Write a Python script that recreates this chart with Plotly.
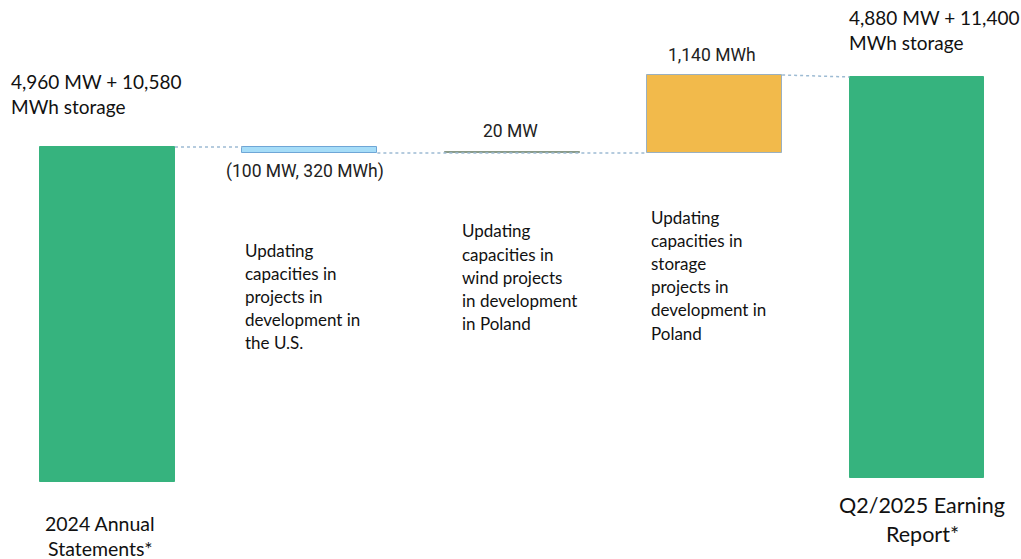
import plotly.graph_objects as go

# Capacity bridge: opening total, three adjustments, closing total (display units)
categories = ["2024 Annual Statements*", "U.S. update", "Wind Poland", "Storage Poland", "Q2/2025 Earning Report*"]
bar_base = [0.0, 98.2, 98.2, 98.2, 1.2]
bar_top = [100.0, 100.0, 98.6, 121.5, 120.9]

value_labels = ["4,960 MW + 10,580<br>MWh storage", "(100 MW, 320 MWh)", "20 MW", "1,140 MWh",
                "4,880 MW + 11,400<br>MWh storage"]
descriptions = [
    None,
    ["Updating", "capacities in", "projects in", "development in", "the U.S."],
    ["Updating", "capacities in", "wind projects", "in development", "in Poland"],
    ["Updating", "capacities in", "storage", "projects in", "development in", "Poland"],
    None,
]

fill_colors = ["#36B37E", "#A6DDF8", "#8E9C80", "#F2BA4B", "#36B37E"]
edge_colors = ["#36B37E", "#6FA6D6", "#8A9A88", "#9AB0C0", "#36B37E"]

W, H = 1021, 559
BAR_W = 0.667
x_idx = list(range(len(categories)))

fig = go.Figure()

fig.add_trace(go.Bar(
    x=x_idx,
    y=[t - b for t, b in zip(bar_top, bar_base)],
    base=bar_base,
    width=BAR_W,
    marker=dict(color=fill_colors, line=dict(color=edge_colors, width=1)),
    hoverinfo="skip",
    showlegend=False,
))

# dotted connectors between neighbouring bars
half = BAR_W / 2
conn_x, conn_y = [], []
conn_x += [0 + half, 1 - half, None]
conn_y += [bar_top[0], bar_top[1], None]
conn_x += [1 + half, 3 - half, None]
conn_y += [bar_base[1], bar_base[3], None]
conn_x += [3 + half, 4 - half, None]
conn_y += [bar_top[3], bar_top[4], None]
fig.add_trace(go.Scatter(
    x=conn_x, y=conn_y, mode="lines",
    line=dict(color="#9DBBD3", width=1.5, dash="dot"),
    hoverinfo="skip", showlegend=False,
))

CAL = "Lato, 'Open Sans', sans-serif"
ROB = "Roboto, Arial, sans-serif"


def px(xp, yp):
    return xp / W, 1 - yp / H


annotations = []


def text_at(xp, yp, text, size, family, xanchor="left", color="#111111"):
    ax, ay = px(xp, yp)
    annotations.append(dict(x=ax, y=ay, xref="paper", yref="paper", text=text,
                            showarrow=False, xanchor=xanchor, yanchor="middle",
                            font=dict(size=size, family=family, color=color)))


# totals
text_at(9, 82, "4,960 MW + 10,580", 19, CAL)
text_at(9, 106, "MWh storage", 19, CAL)
text_at(847, 18, "4,880 MW + 11,400", 19, CAL)
text_at(847, 42, "MWh storage", 19, CAL)

# adjustment values
text_at(305, 171, value_labels[1], 17.5, ROB, "center", "#222222")
text_at(510, 131, value_labels[2], 17.5, ROB, "center", "#222222")
text_at(712, 55, value_labels[3], 17.5, ROB, "center", "#222222")

# adjustment descriptions
desc_pos = {1: (243, 250), 2: (460, 231), 3: (649, 217)}
for i, (x0, y0) in desc_pos.items():
    for k, line in enumerate(descriptions[i]):
        text_at(x0, y0 + k * 23.2, line, 17, CAL)

# category labels below the totals
text_at(100, 523, "2024 Annual", 19.5, CAL, "center")
text_at(100, 548, "Statements*", 19.5, CAL, "center")
text_at(922, 505, "Q2/2025 Earning", 21.5, CAL, "center")
text_at(922, 534, "Report*", 21.5, CAL, "center")

# x range: category centres at 107.5 px and 917 px
step = (917 - 107.5) / 4
x0r = -107.5 / step
x1r = (W - 107.5) / step
# y range: opening bar spans 482 px -> 147 px
k = (482 - 147) / 100.0
y_lo = -(H - 482) / k
y_hi = 482 / k

fig.update_layout(
    width=W, height=H,
    margin=dict(l=0, r=0, t=0, b=0),
    paper_bgcolor="white", plot_bgcolor="white",
    xaxis=dict(range=[x0r, x1r], visible=False, fixedrange=True),
    yaxis=dict(range=[y_lo, y_hi], visible=False, fixedrange=True),
    annotations=annotations,
    bargap=0,
)

fig.write_html("out.html")
